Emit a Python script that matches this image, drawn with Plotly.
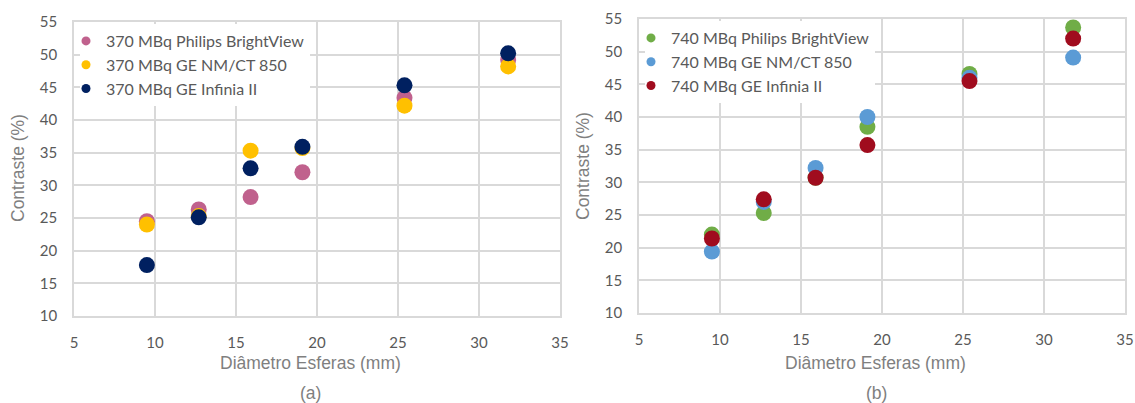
import plotly.graph_objects as go

# Sphere diameters (mm)
diametros = [9.5, 12.7, 15.9, 19.1, 25.4, 31.8]

# Contrast (%) at 370 MBq
c370_philips = [24.5, 26.3, 28.2, 32.0, 43.4, 49.2]
c370_nmct = [24.0, 25.3, 35.3, 35.7, 42.2, 48.2]
c370_infinia = [17.8, 25.1, 32.6, 35.9, 45.3, 50.2]

# Contrast (%) at 740 MBq
c740_philips = [22.0, 25.3, 30.7, 38.5, 46.6, 53.7]
c740_nmct = [19.4, 27.0, 32.2, 40.0, 46.0, 49.1]
c740_infinia = [21.4, 27.4, 30.7, 35.7, 45.5, 52.0]

nomes_370 = ["370 MBq Philips BrightView", "370 MBq GE NM/CT 850", "370 MBq GE Infinia II"]
nomes_740 = ["740 MBq Philips BrightView", "740 MBq GE NM/CT 850", "740 MBq GE Infinia II"]
cores_370 = ["#C0618D", "#FFC000", "#002060"]
cores_740 = ["#70AD47", "#5B9BD5", "#A00C1E"]

W, H = 1135, 403
TICK_FONT = dict(family="Lato", size=15, color="#595959")
LEGEND_FONT = dict(family="Lato", size=16, color="#595959")
TITLE_FONT = dict(family="Liberation Sans", size=17.5, color="#7F7F7F")
GRID = "#D9D9D9"

fig = go.Figure()

def add_panel(series, nomes, cores, xa, ya, legend):
    for vals, nome, cor in zip(series, nomes, cores):
        fig.add_trace(go.Scatter(
            x=diametros, y=vals, mode="markers", name=nome,
            marker=dict(size=16, color=cor), xaxis=xa, yaxis=ya,
            showlegend=False, hoverinfo="x+y+name"))
        # small legend symbol
        fig.add_trace(go.Scatter(
            x=[None], y=[None], mode="markers", name=nome,
            marker=dict(size=9, color=cor), xaxis=xa, yaxis=ya,
            legend=legend, showlegend=True))

add_panel([c370_philips, c370_nmct, c370_infinia], nomes_370, cores_370, "x", "y", "legend")
add_panel([c740_philips, c740_nmct, c740_infinia], nomes_740, cores_740, "x2", "y2", "legend2")

def px_x(p):
    return p / W

def px_y(p):
    return 1 - p / H

axis_common = dict(
    showgrid=True, gridcolor=GRID, gridwidth=1.5,
    showline=True, linecolor=GRID, linewidth=1.5, mirror=True,
    zeroline=False, ticks="", tickfont=TICK_FONT, dtick=5,
    fixedrange=True, automargin=False,
)

fig.update_layout(
    template="none",
    width=W, height=H,
    margin=dict(l=0, r=0, t=0, b=0, pad=0),
    paper_bgcolor="white", plot_bgcolor="white",
    xaxis=dict(domain=[px_x(74), px_x(560)], range=[5, 35], anchor="y",
               ticklabelstandoff=12, **axis_common),
    yaxis=dict(domain=[px_y(316), px_y(22)], range=[10, 55], anchor="x",
               ticklabelstandoff=12, **axis_common),
    xaxis2=dict(domain=[px_x(639), px_x(1125)], range=[5, 35], anchor="y2",
                ticklabelstandoff=12, **axis_common),
    yaxis2=dict(domain=[px_y(313), px_y(19)], range=[10, 55], anchor="x2",
                ticklabelstandoff=12, **axis_common),
    legend=dict(x=px_x(80), y=px_y(24), xanchor="left", yanchor="top",
                bgcolor="white", font=LEGEND_FONT, borderwidth=0,
                indentation=-14, itemwidth=30, tracegroupgap=0),
    legend2=dict(x=px_x(645), y=px_y(21), xanchor="left", yanchor="top",
                 bgcolor="white", font=LEGEND_FONT, borderwidth=0,
                 indentation=-14, itemwidth=30, tracegroupgap=0),
    showlegend=True,
)

annots = [
    ("Contraste (%)", 18, 168, -90),
    ("Contraste (%)", 583, 166, -90),
    ("Diâmetro Esferas (mm)", 310, 363, 0),
    ("Diâmetro Esferas (mm)", 875, 363, 0),
    ("(a)", 310, 393, 0),
    ("(b)", 876, 393, 0),
]
for txt, xp, yp, ang in annots:
    fig.add_annotation(text=txt, x=px_x(xp), y=px_y(yp), xref="paper", yref="paper",
                       xanchor="center", yanchor="middle", showarrow=False,
                       textangle=ang, font=TITLE_FONT)

fig.write_html("out.html")
